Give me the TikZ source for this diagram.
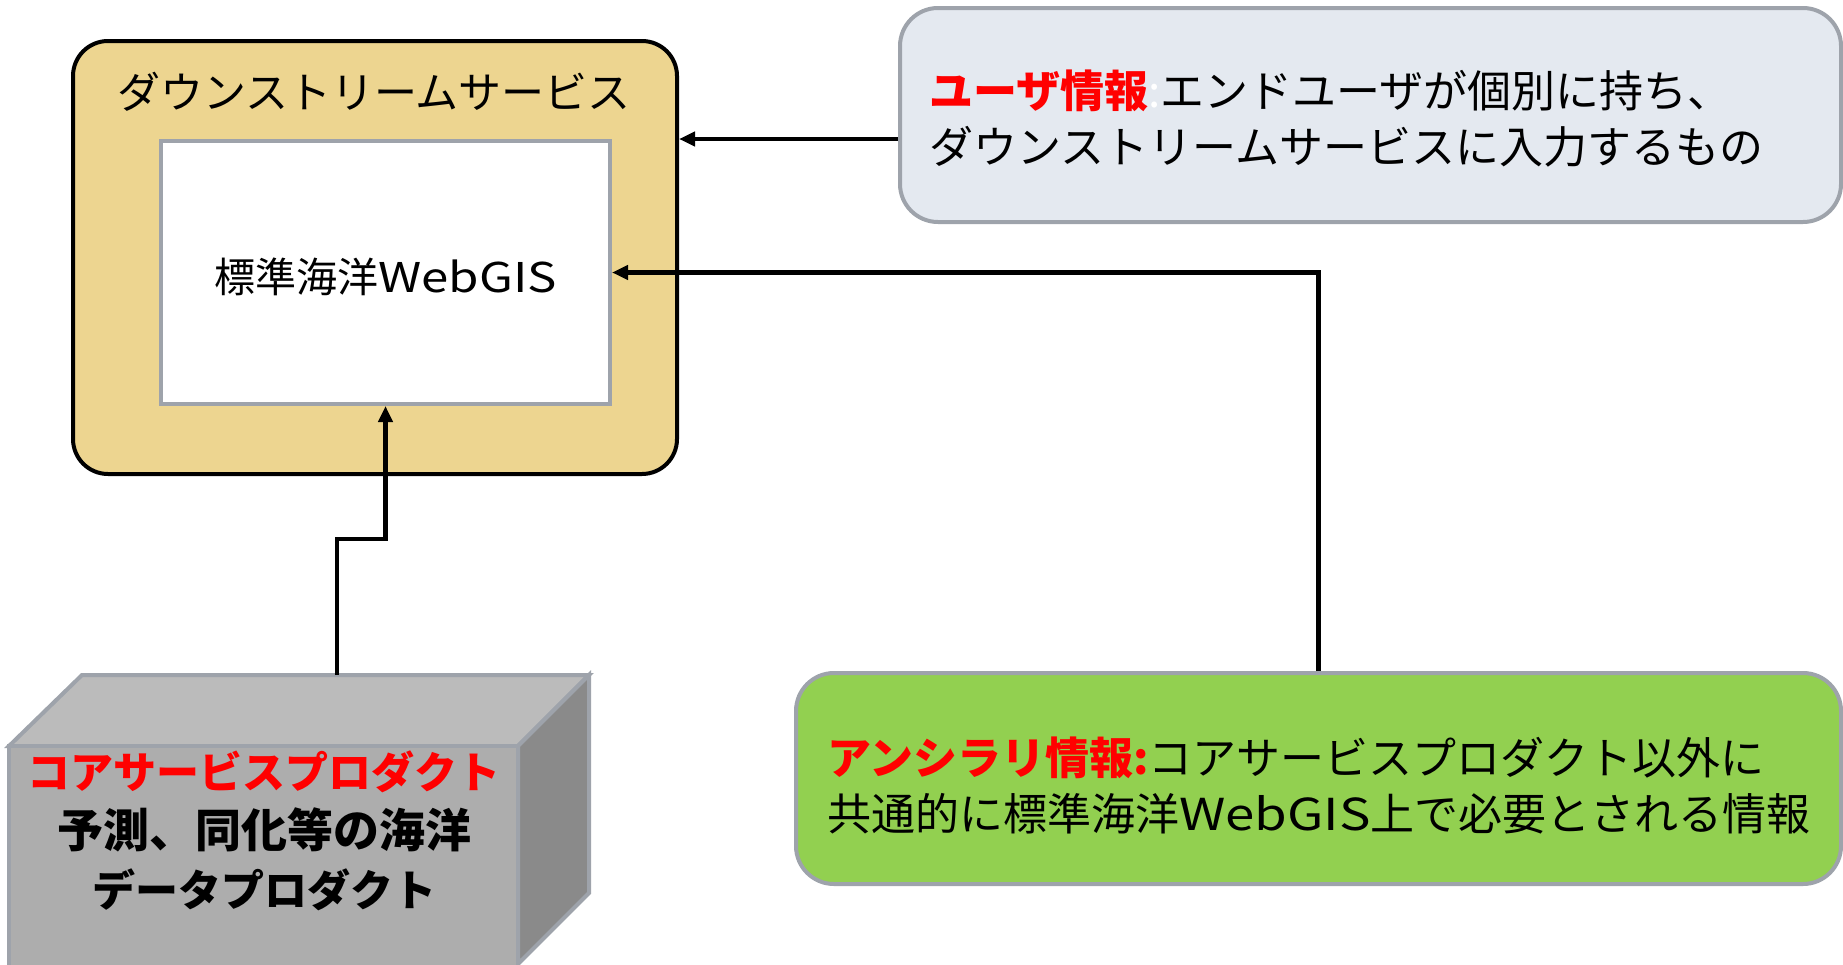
\documentclass[tikz,border=0pt]{standalone}
\usepackage{fontspec}
\setmainfont{Noto Sans CJK JP}
\usetikzlibrary{arrows.meta}
\definecolor{downfill}{HTML}{EDD590}
\definecolor{edgegray}{HTML}{9EA3AB}
\definecolor{userfill}{HTML}{E4E9F0}
\definecolor{ancfill}{HTML}{92D050}
\definecolor{cubetop}{HTML}{BBBBBB}
\definecolor{cubefront}{HTML}{ADADAD}
\definecolor{cubeside}{HTML}{8A8A8A}
\newcommand{\wgis}{\scalebox{1.2}[1]{WebGIS}}
\tikzset{
  bigbox/.style={draw=edgegray, line width=4pt, rounded corners=38pt, inner sep=0pt},
  txt/.style={inner sep=0pt, font=\fontsize{44}{56}\selectfont},
  arr/.style={line width=4.5pt, -{Triangle[length=16pt,width=14pt]}},
  cubeface/.style={draw=edgegray, line width=4pt, line join=miter},
}
\begin{document}
\begin{tikzpicture}[x=1pt,y=-1pt]
\useasboundingbox (0,0) rectangle (1843,964);
\clip (0,0) rectangle (1843,964);

% downstream service box
\node[draw=black, line width=4pt, fill=downfill, rounded corners=35pt,
      minimum width=604pt, minimum height=433pt, inner sep=0pt] (outer) at (375,257.5) {};
\node[txt, font=\fontsize{43}{56}\selectfont] (title) at (374,92) {ダウンストリームサービス};
\node[draw=edgegray, line width=4pt, fill=white,
      minimum width=449pt, minimum height=263pt, inner sep=0pt] (inner) at (385.5,272.5) {};
\node[txt, font=\fontsize{41}{50}\selectfont] (innertxt) at (385.5,277) {標準海洋\wgis};

% user info box
\node[bigbox, fill=userfill, minimum width=941pt, minimum height=214pt] (user) at (1370.5,115) {};
\node[txt, anchor=west, align=left] (usertxt) at (929,119)
  {{\bfseries\color{red}ユーザ情報}{\color{white}:}エンドユーザが個別に持ち、\\ダウンストリームサービスに入力するもの};

% ancillary info box
\node[bigbox, fill=ancfill, minimum width=1045pt, minimum height=211pt] (green) at (1318.5,778.5) {};
\node[txt, anchor=west, align=left] (greentxt) at (827,785)
  {{\bfseries\color{red}アンシラリ情報:}コアサービスプロダクト以外に\\共通的に標準海洋\wgis 上で必要とされる情報};

% core service product cube
\filldraw[cubeface, fill=cubetop] (9,746) -- (82,675) -- (589,675) -- (518,746) -- cycle;
\filldraw[cubeface, fill=cubeside] (518,746) -- (589,675) -- (589,893) -- (518,964) -- cycle;
\filldraw[cubeface, fill=cubefront] (9,746) rectangle (518,980);
\node[txt, align=center, font=\bfseries\fontsize{43}{59}\selectfont] (core) at (264,831)
  {{\color{red}コアサービスプロダクト}\\{\fontsize{46}{59}\selectfont 予測、同化等の海洋}\\データプロダクト};
\coordinate (coretop) at (337,675);
\coordinate (bend) at (337,539);

% connectors
\draw[arr] (user.west |- inner.north) -- (outer.east |- inner.north);
\draw[arr] (green.north) |- (inner.east);
\draw[arr] (coretop) -- (bend) -| (inner.south);
\end{tikzpicture}
\end{document}
